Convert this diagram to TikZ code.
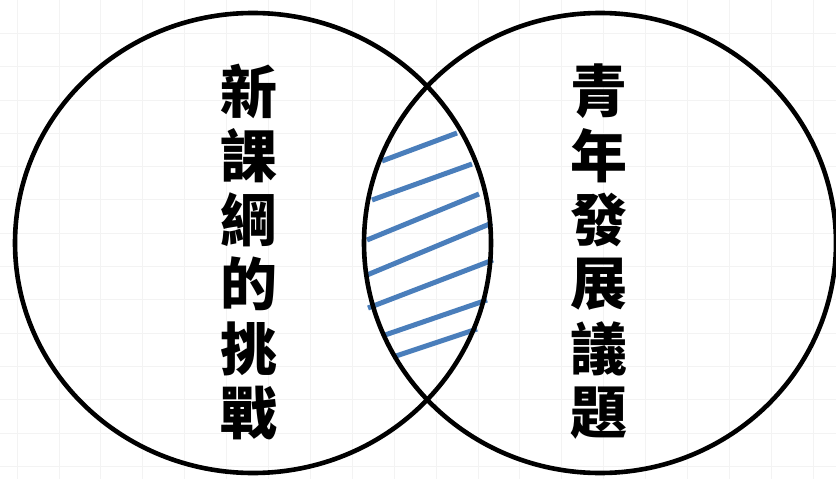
\documentclass[tikz,border=0pt]{standalone}
\usepackage{fontspec}
\newfontfamily\cjk{Noto Sans CJK TC}
\definecolor{hatchblue}{HTML}{4A7EBB}
\definecolor{gridgray}{HTML}{F3F3F3}
\tikzset{
  ring/.style={draw=black, line width=4.6pt},
  hatch/.style={draw=hatchblue, line width=5pt},
  gridline/.style={draw=gridgray, line width=0.8pt},
  glyph/.style={font=\cjk\bfseries\fontsize{57}{64}\selectfont, inner sep=0pt, text=black}
}
\begin{document}
\begin{tikzpicture}[x=1pt, y=-1pt]
\useasboundingbox (0,0) rectangle (836,479);
\fill[white] (0,0) rectangle (836,479);
% faint background grid
\foreach \i in {0,...,19} { \draw[gridline] ({17+41.9*\i},0) -- ({17+41.9*\i},479); }
\foreach \j in {1,...,14} { \draw[gridline] (0,{33.3*\j}) -- (836,{33.3*\j}); }
% hatching in the overlap
\draw[hatch] (382,161) -- (457,133);
\draw[hatch] (372,200) -- (472,164);
\draw[hatch] (367,240) -- (479,194);
\draw[hatch] (367,275) -- (492,223);
\draw[hatch] (368,308) -- (493,260);
\draw[hatch] (385,335) -- (487,300);
\draw[hatch] (393,357) -- (477,329);
% the two circles
\draw[ring] (253,243) ellipse [x radius=238, y radius=230];
\draw[ring] (600,243) ellipse [x radius=236, y radius=230];
% texts
\foreach \c [count=\k] in {新,課,綱,的,挑,戰} {
  \node[glyph] (l\k) at (249,{91+64.4*(\k-1)}) {\c};
}
\foreach \c [count=\k] in {青,年,發,展,議,題} {
  \node[glyph] (r\k) at (599,{91+64.4*(\k-1)}) {\c};
}
\end{tikzpicture}
\end{document}
